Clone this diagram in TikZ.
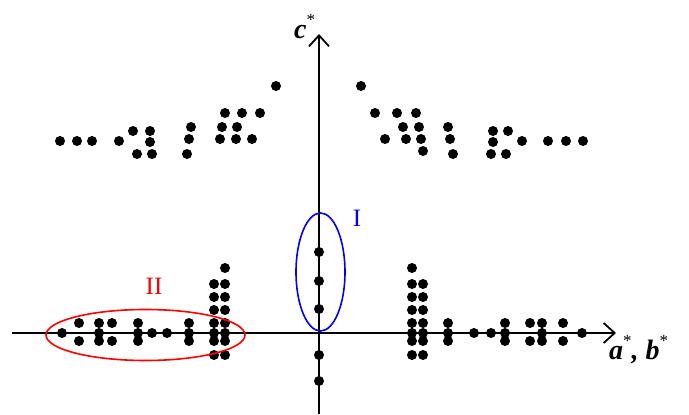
\documentclass[tikz,border=0pt]{standalone}
\usepackage{fontspec}
\setmainfont{Liberation Serif}
\usetikzlibrary{arrows.meta}
\newcommand{\astsup}{\raisebox{13pt}{\fontsize{17}{17}\selectfont\mdseries\upshape *}}
\begin{document}
\begin{tikzpicture}[x=1pt,y=-1pt,
  axisline/.style={line width=1.8pt,-{Straight Barb[length=11pt,width=20pt,line width=1.8pt]}},
  spot/.style={fill=black},
  axlabel/.style={font=\fontsize{28}{28}\selectfont\bfseries\itshape,inner sep=0pt},
  grouplabel/.style={font=\fontsize{25}{25}\selectfont,inner sep=0pt}]
\useasboundingbox (0,0) rectangle (689,415);
\coordinate (hstart) at (12,333);
\coordinate (hend) at (616,333);
\coordinate (vstart) at (319,414);
\coordinate (vend) at (319,34);
\draw[axisline] (hstart) -- (hend);
\draw[axisline,line width=1.5pt] (vstart) -- (vend);
\def\rr{5.0}
% upper dots
\foreach \p in {(60,141),(77,141),(92,141),(119,141),(133,131),(150,131),(150,142),(137,154),(152,154),(191,127),(189,139),(187,154),(225,113),(242,113),(260,113),(222,127),(237,127),(220,139),(236,139),(252,139),(276,86),
(361,86),(375,113),(397,113),(416,113),(403,127),(419,127),(448,127),(385,139),(406,139),(421,139),(450,139),(423,151),(453,154),(493,131),(508,131),(493,142),(522,141),(491,154),(506,154),(548,141),(566,141),(583,141)}
  \fill[spot] \p circle (\rr);
% lower left
\foreach \p in {(62,333),(79,323),(79,341),(99,323),(99,333),(99,341),(112,323),(112,341),(138,323),(138,333),(138,341),(152,333),(167,333),(189,323),(189,333),(189,341),(225,268)}
  \fill[spot] \p circle (\rr);
\foreach \yy in {284,297,310,323,333,341,355}{
  \fill[spot] (214,\yy) circle (\rr);
  \fill[spot] (225,\yy) circle (\rr);
  \fill[spot] (412,\yy) circle (\rr);
  \fill[spot] (423,\yy) circle (\rr);
}
% lower right
\foreach \p in {(412,268),(448,323),(448,333),(448,341),(474,333),(491,333),(505,323),(505,333),(505,341),(530,323),(530,341),(542,323),(542,333),(542,341),(563,323),(563,341),(582,333)}
  \fill[spot] \p circle (\rr);
% vertical axis dots
\foreach \yy in {252,281,309,355,381}
  \fill[spot] (319,\yy) circle (\rr);
% ellipses
\draw[blue,line width=1.6pt] (320.5,272) ellipse [x radius=24.5,y radius=59];
\draw[red,line width=1.6pt] (145.5,335) ellipse [x radius=99.5,y radius=25.5];
\node[grouplabel,text=blue] (labI) at (357,218) {I};
\node[grouplabel,text=red] (labII) at (154,286) {II};
\node[axlabel,anchor=base west] (labc) at (294,38) {c\astsup};
\node[axlabel,anchor=base west] (labab) at (609,359) {a\astsup, b\astsup};
\end{tikzpicture}
\end{document}
